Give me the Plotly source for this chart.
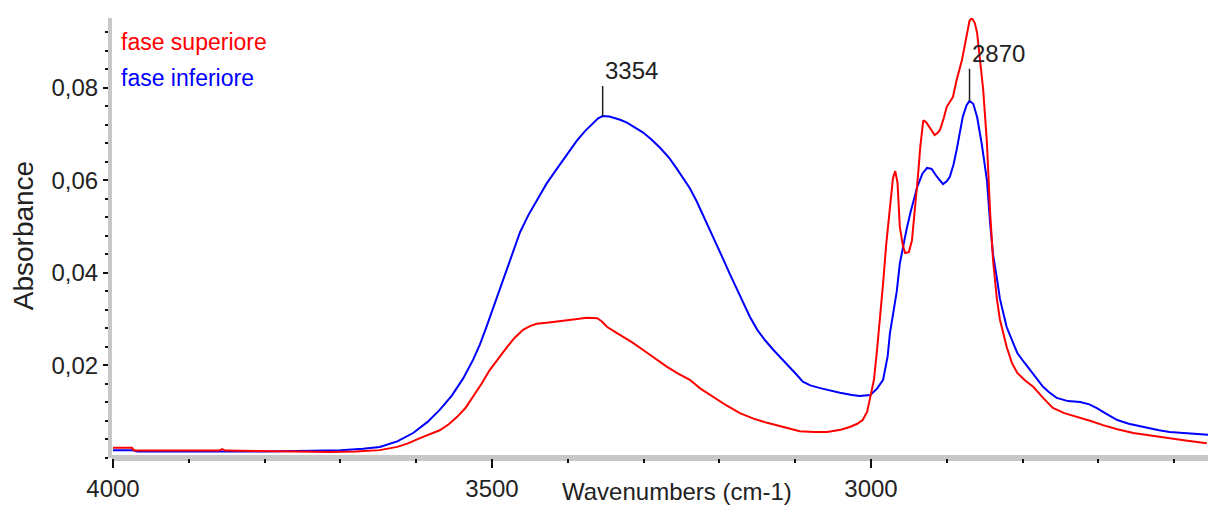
import numpy as np
import plotly.graph_objects as go

# ---------------- data ----------------
series_names = ["fase superiore", "fase inferiore"]

wn_inferiore = [4000, 3975, 3968, 3935, 3925, 3800, 3740, 3700, 3670, 3648, 3625, 3604, 3585, 3569,
                3553, 3538, 3525, 3516, 3508, 3499, 3490, 3480, 3470, 3463, 3452, 3441, 3428, 3414,
                3400, 3388, 3377, 3367, 3360, 3354, 3345, 3331, 3322, 3301, 3290, 3278, 3266, 3256,
                3248, 3239, 3230, 3222, 3212, 3203, 3195, 3186, 3177, 3169, 3160, 3150, 3140, 3129,
                3118, 3107, 3098, 3090, 3080, 3067, 3055, 3041, 3025, 3015, 3001, 2992, 2984, 2978,
                2975, 2970, 2966, 2962, 2958, 2953, 2948, 2943, 2939, 2932, 2926, 2920, 2913, 2905,
                2900, 2896, 2891, 2887, 2883, 2879, 2874, 2870, 2865, 2860, 2854, 2850, 2847, 2843,
                2839, 2834, 2830, 2825, 2821, 2814, 2807, 2798, 2790, 2780, 2773, 2765, 2755, 2740,
                2724, 2712, 2702, 2690, 2675, 2660, 2641, 2620, 2606, 2580, 2555]
abs_inferiore = [0.0017, 0.0017, 0.0014, 0.0013, 0.0014, 0.0014, 0.0015, 0.0017, 0.0020, 0.0024, 0.0036,
                 0.0054, 0.0078, 0.0104, 0.0135, 0.0172, 0.0212, 0.0245, 0.0280, 0.0322, 0.0365, 0.0412,
                 0.0458, 0.0488, 0.0525, 0.0557, 0.0593, 0.0626, 0.0658, 0.0686, 0.0707, 0.0724, 0.0734,
                 0.0739, 0.0738, 0.0731, 0.0725, 0.0704, 0.0689, 0.0670, 0.0648, 0.0625, 0.0605, 0.0583,
                 0.0555, 0.0527, 0.0492, 0.0460, 0.0430, 0.0397, 0.0366, 0.0337, 0.0306, 0.0277, 0.0255,
                 0.0234, 0.0215, 0.0197, 0.0180, 0.0165, 0.0157, 0.0151, 0.0146, 0.0141, 0.0136, 0.0134,
                 0.0136, 0.0150, 0.0169, 0.0220, 0.0270, 0.0320, 0.0360, 0.0420, 0.0455, 0.0495, 0.0530,
                 0.0560, 0.0586, 0.0615, 0.0627, 0.0625, 0.0608, 0.0592, 0.0598, 0.0608, 0.0635, 0.0666,
                 0.0700, 0.0737, 0.0762, 0.0772, 0.0765, 0.0737, 0.0680, 0.0640, 0.0600, 0.0510, 0.0440,
                 0.0390, 0.0345, 0.0310, 0.0283, 0.0255, 0.0227, 0.0207, 0.0190, 0.0170, 0.0154, 0.0142,
                 0.0130, 0.0123, 0.0121, 0.0116, 0.0108, 0.0096, 0.0082, 0.0074, 0.0067, 0.0060, 0.0056,
                 0.0053, 0.0050]

wn_superiore = [4000, 3975, 3972, 3860, 3856, 3852, 3760, 3714, 3680, 3648, 3625, 3610, 3595, 3582,
                3569, 3557, 3546, 3535, 3525, 3514, 3503, 3492, 3480, 3470, 3459, 3450, 3441, 3425,
                3406, 3390, 3375, 3361, 3355, 3348, 3335, 3327, 3315, 3301, 3285, 3269, 3255, 3239,
                3225, 3208, 3190, 3173, 3155, 3137, 3115, 3094, 3075, 3058, 3040, 3028, 3018, 3011,
                3005, 3001, 2996, 2992, 2988, 2984, 2980, 2975, 2971, 2968, 2965, 2962, 2958, 2955,
                2950, 2946, 2942, 2938, 2935, 2931, 2927, 2922, 2916, 2912, 2909, 2904, 2900, 2892,
                2887, 2880, 2876, 2873, 2870, 2867, 2863, 2860, 2856, 2852, 2847, 2843, 2839, 2834,
                2830, 2821, 2814, 2807, 2797, 2786, 2773, 2760, 2745, 2728, 2710, 2694, 2675, 2654,
                2630, 2610, 2585, 2557]
abs_superiore = [0.0022, 0.0022, 0.0016, 0.0016, 0.0019, 0.0016, 0.0014, 0.0013, 0.0014, 0.0017, 0.0024,
                 0.0032, 0.0043, 0.0051, 0.0060, 0.0073, 0.0089, 0.0108, 0.0132, 0.0160, 0.0190, 0.0215,
                 0.0240, 0.0260, 0.0277, 0.0285, 0.0290, 0.0293, 0.0296, 0.0300, 0.0303, 0.0302, 0.0295,
                 0.0283, 0.0270, 0.0262, 0.0250, 0.0234, 0.0215, 0.0197, 0.0183, 0.0169, 0.0150, 0.0132,
                 0.0113, 0.0097, 0.0085, 0.0076, 0.0066, 0.0058, 0.0056, 0.0056, 0.0061, 0.0067, 0.0074,
                 0.0082, 0.0100, 0.0130, 0.0170, 0.0234, 0.0300, 0.0378, 0.0460, 0.0543, 0.0605, 0.0620,
                 0.0595, 0.0500, 0.0460, 0.0443, 0.0445, 0.0470, 0.0536, 0.0610, 0.0672, 0.0730, 0.0725,
                 0.0712, 0.0698, 0.0703, 0.0709, 0.0735, 0.0759, 0.0780, 0.0817, 0.0860, 0.0895, 0.0925,
                 0.0945, 0.0951, 0.0940, 0.0919, 0.0860, 0.0796, 0.0680, 0.0536, 0.0428, 0.0345, 0.0300,
                 0.0240, 0.0205, 0.0184, 0.0168, 0.0154, 0.0130, 0.0108, 0.0097, 0.0089, 0.0080, 0.0071,
                 0.0062, 0.0054, 0.0048, 0.0043, 0.0038, 0.0032]

peak_positions = [3354, 2870]
peak_labels = ["3354", "2870"]
peak_offsets = [-30, -32]

y_tickvals = [0.02, 0.04, 0.06, 0.08]

# ---------------- figure ----------------
FONT = "Liberation Sans, Arial, sans-serif"
RED = "#ff0000"
BLUE = "#0000ff"

fig = go.Figure()
fig.add_trace(go.Scatter(x=wn_inferiore, y=abs_inferiore, mode="lines", name=series_names[1],
                         line=dict(color=BLUE, width=2), showlegend=False))
fig.add_trace(go.Scatter(x=wn_superiore, y=abs_superiore, mode="lines", name=series_names[0],
                         line=dict(color=RED, width=2), showlegend=False))

annotations = []
for pos, lab, off in zip(peak_positions, peak_labels, peak_offsets):
    yv = float(np.interp(pos, wn_inferiore[::-1], abs_inferiore[::-1]))
    annotations.append(dict(x=pos, y=yv, xref="x", yref="y", text=lab, showarrow=True,
                            arrowhead=0, arrowwidth=1.5, arrowcolor="#222222", ax=0, ay=off,
                            standoff=0, xanchor="left", yanchor="bottom",
                            font=dict(family=FONT, size=24, color="#222222")))

# legend as coloured text
annotations.append(dict(x=0.006, y=0.945, xref="paper", yref="paper", text=series_names[0],
                        showarrow=False, xanchor="left", yanchor="middle",
                        font=dict(family=FONT, size=23, color=RED)))
annotations.append(dict(x=0.006, y=0.863, xref="paper", yref="paper", text=series_names[1],
                        showarrow=False, xanchor="left", yanchor="middle",
                        font=dict(family=FONT, size=23, color=BLUE)))
# axis titles
annotations.append(dict(x=0.5155, y=-0.075, xref="paper", yref="paper", text="Wavenumbers (cm-1)",
                        showarrow=False, xanchor="center", yanchor="middle",
                        font=dict(family=FONT, size=24, color="#222222")))
annotations.append(dict(x=-0.081, y=0.5045, xref="paper", yref="paper", text="Absorbance",
                        showarrow=False, xanchor="center", yanchor="middle", textangle=-90,
                        font=dict(family=FONT, size=28, color="#222222")))

fig.update_layout(
    width=1208, height=505,
    margin=dict(l=112, r=0, t=18, b=47),
    paper_bgcolor="white", plot_bgcolor="white",
    separators=",.",
    annotations=annotations,
    xaxis=dict(range=[4001.3, 2555.4], tick0=0, dtick=500, ticks="outside", ticklen=9,
               tickwidth=2, tickcolor="#111111", showgrid=False, zeroline=False, showline=False,
               tickfont=dict(family=FONT, size=24, color="#222222"),
               minor=dict(dtick=100, tick0=0, ticks="outside", ticklen=4, tickwidth=2,
                          tickcolor="#111111", showgrid=False)),
    yaxis=dict(range=[0, 0.0951], tickmode="array", tickvals=y_tickvals, tickformat=".2f",
               ticks="outside", ticklen=5, tickwidth=2, tickcolor="#111111", showgrid=False,
               zeroline=True, zerolinecolor="#c8c8c8", zerolinewidth=6,
               showline=True, linecolor="#c8c8c8", linewidth=4,
               tickfont=dict(family=FONT, size=24, color="#222222"),
               minor=dict(dtick=0.004, tick0=0, ticks="outside", ticklen=3, tickwidth=2,
                          tickcolor="#111111", showgrid=False)),
)

fig.write_html("out.html")
